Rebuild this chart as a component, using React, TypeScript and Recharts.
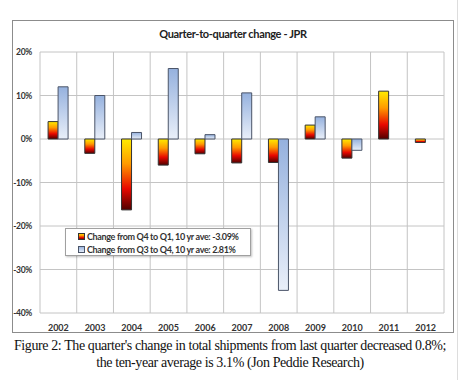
import React from "react";
import { BarChart, Bar, XAxis, YAxis, CartesianGrid } from "recharts";

const years = ["2002", "2003", "2004", "2005", "2006", "2007", "2008", "2009", "2010", "2011", "2012"];
const q4ToQ1 = [4.0, -3.3, -16.3, -6.0, -3.4, -5.5, -5.4, 3.2, -4.4, 11.0, -0.8];
const q3ToQ4: (number | null)[] = [12.0, 10.0, 1.5, 16.2, 1.0, 10.6, -34.8, 5.1, -2.6, null, null];
const yTicks = [-40, -30, -20, -10, 0, 10, 20];
const seriesNames = ["Change from Q4 to Q1, 10 yr ave: -3.09%", "Change from Q3 to Q4, 10 yr ave: 2.81%"];

const data = years.map((y, i) => ({ year: y, q4q1: q4ToQ1[i], q3q4: q3ToQ4[i] }));

const labelFont = "Lato, 'Open Sans', sans-serif";

function LegendBox() {
  const items = [
    { name: seriesNames[0], fill: "url(#gradOrange)", stroke: "#333" },
    { name: seriesNames[1], fill: "url(#gradBlue)", stroke: "#4a5468" },
  ];
  return (
    <div
      style={{
        position: "absolute",
        left: 65,
        top: 228,
        width: 186,
        height: 28,
        boxSizing: "border-box",
        border: "1px solid #a0a0a0",
        background: "#fff",
        boxShadow: "1px 1px 2px rgba(0,0,0,0.25)",
        padding: "1px 0 0 12px",
        fontFamily: labelFont,
        fontWeight: 700,
        fontSize: 9,
        letterSpacing: -0.35,
        color: "#333",
      }}
    >
      {items.map((it) => (
        <div key={it.name} style={{ display: "flex", alignItems: "center", height: 13, whiteSpace: "nowrap" }}>
          <svg width={7} height={7} style={{ marginRight: 2, flexShrink: 0 }}>
            <rect x={0.5} y={0.5} width={6} height={6} fill={it.fill} stroke={it.stroke} strokeWidth={1} />
          </svg>
          <span>{it.name}</span>
        </div>
      ))}
    </div>
  );
}

export default function App() {
  return (
    <div style={{ position: "absolute", left: 0, top: 0, width: 460, height: 380, background: "#fff", overflow: "hidden" }}>
      <div style={{ position: "absolute", left: 12, top: 20, width: 440, height: 311, border: "1px solid #8c8c8c" }} />
      <div style={{ position: "absolute", left: 457, top: 0, width: 1, height: 380, background: "#ddd" }} />
      <div
        style={{
          position: "absolute",
          left: 12,
          top: 27,
          width: 442,
          textAlign: "center",
          fontFamily: labelFont,
          fontWeight: 700,
          fontSize: 11,
          letterSpacing: -0.35,
          color: "#222",
        }}
      >
        Quarter-to-quarter change - JPR
      </div>
      <div style={{ position: "absolute", left: 0, top: 0 }}>
        <BarChart
          width={460}
          height={340}
          data={data}
          margin={{ top: 52, right: 16, left: 12, bottom: 7 }}
          barCategoryGap="22%"
          barGap={0}
        >
          <defs>
            <linearGradient id="gradOrange" x1="0" y1="0" x2="0" y2="1">
              <stop offset="0%" stopColor="#ffec00" />
              <stop offset="35%" stopColor="#ff9a00" />
              <stop offset="70%" stopColor="#e80800" />
              <stop offset="100%" stopColor="#500000" />
            </linearGradient>
            <linearGradient id="gradBlue" x1="0" y1="0" x2="0" y2="1">
              <stop offset="0%" stopColor="#95b1de" />
              <stop offset="100%" stopColor="#e9eff9" />
            </linearGradient>
          </defs>
          <CartesianGrid
            stroke="#c4c4c4"
            strokeWidth={1}
            verticalCoordinatesGenerator={({ offset }: any) =>
              Array.from({ length: years.length + 1 }, (_, i) => offset.left + (offset.width * i) / years.length)
            }
          />
          <XAxis
            dataKey="year"
            axisLine={false}
            tickLine={false}
            height={20}
            tickMargin={6}
            tick={{ fontSize: 9, fontWeight: 700, fill: "#333", fontFamily: labelFont }}
          />
          <YAxis
            domain={[-40, 20]}
            ticks={yTicks}
            width={28}
            axisLine={false}
            tickLine={false}
            tickSize={0}
            tickMargin={8}
            tickFormatter={(v) => `${v}%`}
            tick={{ fontSize: 8.5, fontWeight: 700, fill: "#333", fontFamily: labelFont, letterSpacing: -0.3 }}
          />
          <Bar dataKey="q4q1" name={seriesNames[0]} fill="url(#gradOrange)" stroke="#333" strokeWidth={1} isAnimationActive={false} />
          <Bar dataKey="q3q4" name={seriesNames[1]} fill="url(#gradBlue)" stroke="#4a5468" strokeWidth={1} isAnimationActive={false} />
        </BarChart>
      </div>
      <LegendBox />
      <div
        style={{
          position: "absolute",
          left: 0,
          top: 337,
          width: 460,
          textAlign: "center",
          fontFamily: "'Liberation Serif', 'Times New Roman', serif",
          fontSize: 14,
          lineHeight: "17px",
          color: "#111",
          letterSpacing: -0.4,
        }}
      >
        Figure 2: The quarter's change in total shipments from last quarter decreased 0.8%;
        <br />
        the ten-year average is 3.1% (Jon Peddie Research)
      </div>
    </div>
  );
}
